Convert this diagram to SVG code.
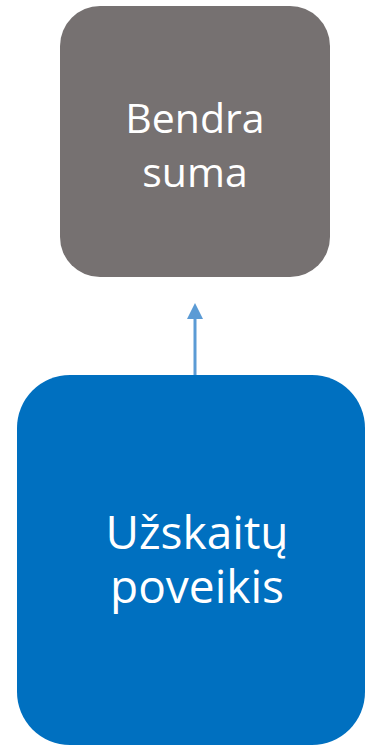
<svg xmlns="http://www.w3.org/2000/svg" width="367" height="746" viewBox="0 0 367 746">
<defs>
<style>
.lbl{font-family:"Open Sans","Noto Sans","Liberation Sans",sans-serif;fill:#ffffff;text-anchor:middle}
</style>
<marker id="ah" markerWidth="16" markerHeight="16" refX="0" refY="8" orient="auto" markerUnits="userSpaceOnUse" viewBox="0 0 16 16">
<path d="M0,0 L16,8 L0,16 Z" fill="#5B9BD5"/>
</marker>
</defs>
<rect width="367" height="746" fill="#ffffff"/>
<g id="connectors">
<line x1="195" y1="375" x2="195" y2="319" stroke="#5B9BD5" stroke-width="3" marker-end="url(#ah)"/>
</g>
<g id="node-bendra">
<rect x="60" y="6" width="270" height="271" rx="40" ry="40" fill="#767171"/>
<text class="lbl" x="195" y="133" font-size="41">Bendra</text>
<text class="lbl" x="195" y="187" font-size="41">suma</text>
</g>
<g id="node-uzskaitu">
<rect x="17" y="375" width="348" height="370" rx="53" ry="53" fill="#0070C0"/>
<text class="lbl" x="197" y="549" font-size="46">Užskaitų</text>
<text class="lbl" x="197" y="603" font-size="46">poveikis</text>
</g>
</svg>
